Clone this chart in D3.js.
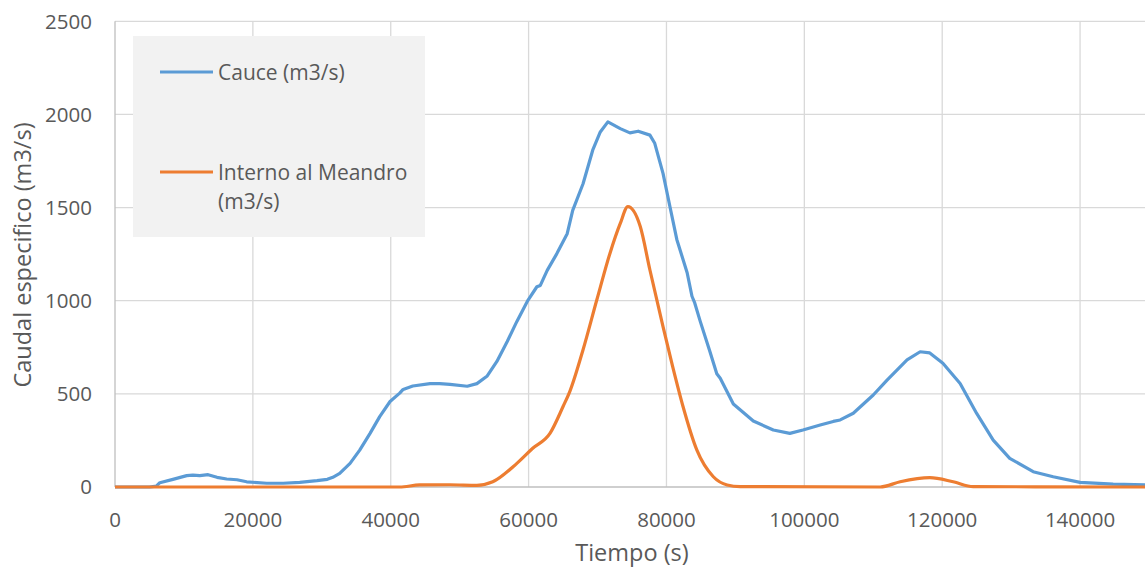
<!DOCTYPE html>
<html><head><meta charset="utf-8">
<script src="https://cdn.jsdelivr.net/npm/d3@7"></script>
<style>body{margin:0;background:#fff}svg{display:block}text{font-family:"Open Sans",sans-serif;fill:#595959}</style>
</head><body><svg id="c" width="1145" height="569"></svg>
<script>
const xTicks=[0,20000,40000,60000,80000,100000,120000,140000];
const yTicks=[0,500,1000,1500,2000,2500];
const seriesNames=["Cauce (m3/s)","Interno al Meandro (m3/s)"];
const cauceT=[0,5000,6000,6500,8400,10400,11300,12300,13500,14800,16200,17700,19100,22000,24400,26800,29300,30800,31600,32600,34100,35500,37000,38400,39900,41300,41800,43200,45700,47100,48600,51100,52500,54000,55400,56900,58300,59900,61200,61700,62700,64100,65600,66400,67900,69300,70400,71500,73300,74700,75900,77600,78300,79500,80500,81500,83000,83700,84100,84900,86300,87300,87800,89700,92600,95500,97900,99800,102300,104200,105200,107100,110000,112000,114900,116800,118200,120100,122600,125000,127400,129800,133200,136100,140000,144800,150000];
const cauceV=[0,0,5,23,41,61,64,61,66,52,43,39,28,20,20,25,34,41,52,73,127,198,288,378,459,504,524,542,555,555,551,541,555,596,674,781,889,1002,1075,1082,1163,1253,1360,1485,1628,1808,1906,1960,1924,1901,1910,1889,1845,1684,1506,1329,1150,1024,988,889,727,608,584,446,354,306,288,306,333,352,360,396,494,574,682,726,720,664,556,395,252,154,82,55,25,15,11];
const internoT=[0,41300,44200,48600,52500,54800,58300,60600,63100,65000,66000,67900,69900,71800,73300,74400,76200,77600,79500,80900,82400,84400,86800,88800,90700,111000,113900,118200,121600,124500,150000];
const internoV=[0,0,11,12,9,28,127,208,288,432,515,737,1005,1254,1415,1505,1398,1165,861,646,432,199,55,11,2,0,28,50,28,2,0];

const svg=d3.select("#c");
const x=d3.scaleLinear().domain([0,150000]).range([115,1149]);
const y=d3.scaleLinear().domain([0,2500]).range([487,21.3]);

svg.append("g").selectAll("line").data(yTicks.slice(1)).join("line")
 .attr("x1",115).attr("x2",1145).attr("y1",d=>y(d)).attr("y2",d=>y(d))
 .attr("stroke","#d9d9d9").attr("stroke-width",1.3);
svg.append("g").selectAll("line").data(xTicks.slice(1)).join("line")
 .attr("x1",d=>x(d)).attr("x2",d=>x(d)).attr("y1",y(2500)).attr("y2",y(0))
 .attr("stroke","#d9d9d9").attr("stroke-width",1.3);
svg.append("line").attr("x1",115).attr("x2",115).attr("y1",y(2500)).attr("y2",y(0)).attr("stroke","#bfbfbf").attr("stroke-width",1.3);
svg.append("line").attr("x1",115).attr("x2",1145).attr("y1",y(0)).attr("y2",y(0)).attr("stroke","#bfbfbf").attr("stroke-width",1.3);

const lg=svg.append("g");
lg.append("rect").attr("x",133).attr("y",36).attr("width",292).attr("height",201).attr("fill","#f2f2f2");

svg.append("g").selectAll("text").data(yTicks).join("text")
 .attr("x",92).attr("y",d=>y(d)).attr("dy","0.36em").attr("text-anchor","end")
 .attr("font-size",20.5).text(d=>d);
svg.append("g").selectAll("text").data(xTicks).join("text")
 .attr("x",d=>x(d)).attr("y",527).attr("text-anchor","middle")
 .attr("font-size",20.5).text(d=>d);

svg.append("text").attr("x",632).attr("y",561).attr("text-anchor","middle").attr("font-size",23.5).text("Tiempo (s)");
svg.append("text").attr("transform","translate(31,255) rotate(-90)").attr("text-anchor","middle").attr("font-size",23.5).text("Caudal especifico (m3/s)");

const line=d3.line().x(d=>x(d[0])).y(d=>y(d[1]));
const cauce=cauceT.map((t,i)=>[t,cauceV[i]]);
const interno=internoT.map((t,i)=>[t,internoV[i]]);
svg.append("path").datum(cauce).attr("d",line).attr("fill","none").attr("stroke","#5b9bd5").attr("stroke-width",3.2).attr("stroke-linejoin","round");
svg.append("path").datum(interno).attr("d",d3.line().curve(d3.curveMonotoneX).x(d=>x(d[0])).y(d=>y(d[1]))).attr("fill","none").attr("stroke","#ed7d31").attr("stroke-width",3.2).attr("stroke-linejoin","round");

const colors=["#5b9bd5","#ed7d31"];
const ly=[72,172];
seriesNames.forEach((n,i)=>{
  lg.append("line").attr("x1",160).attr("x2",213).attr("y1",ly[i]).attr("y2",ly[i]).attr("stroke",colors[i]).attr("stroke-width",3.2);
});
lg.append("text").attr("x",218).attr("y",72).attr("dy","0.36em").attr("font-size",21).text(seriesNames[0]);
lg.append("text").attr("x",218).attr("y",172).attr("dy","0.36em").attr("font-size",21).text("Interno al Meandro");
lg.append("text").attr("x",218).attr("y",201).attr("dy","0.36em").attr("font-size",21).text("(m3/s)");
</script></body></html>
